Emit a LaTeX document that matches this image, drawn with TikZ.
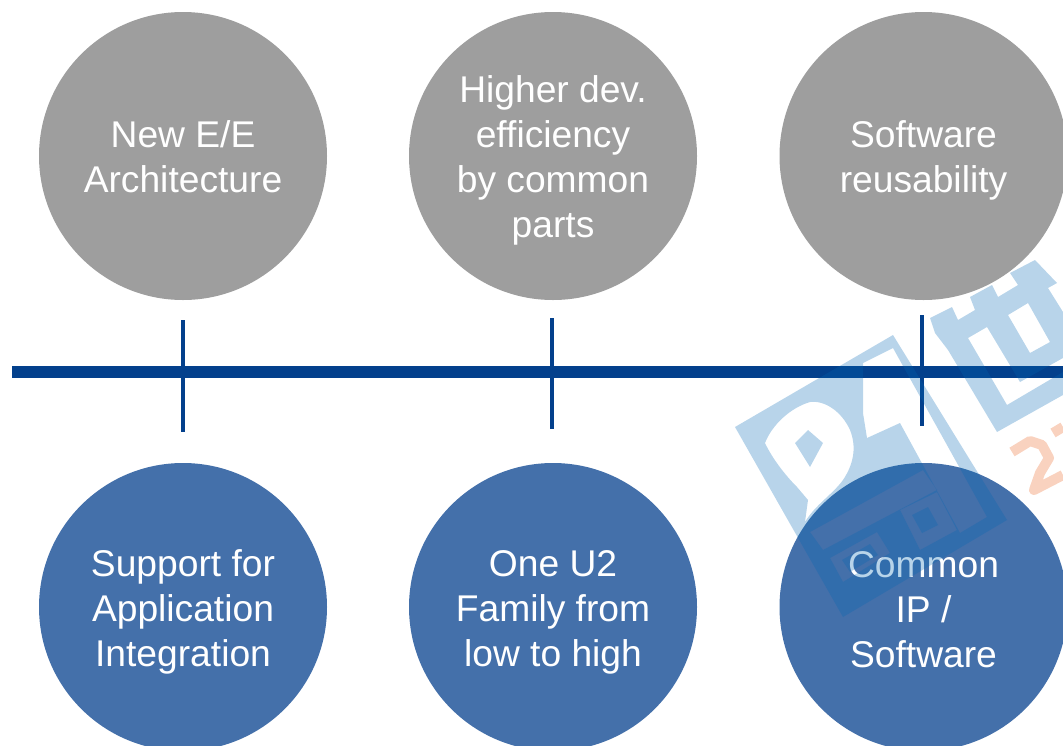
\documentclass[tikz,border=0pt]{standalone}
\usepackage{fontspec}
\setmainfont{Liberation Sans}
\definecolor{greyc}{HTML}{9E9E9E}
\definecolor{bluec}{HTML}{4470AA}
\definecolor{axisc}{HTML}{03408C}
\definecolor{wmblue}{HTML}{0066B3}
\definecolor{wmorange}{HTML}{F9D2BF}
\tikzset{
  disc/.style={circle,minimum size=288pt,inner sep=0pt},
  greydisc/.style={disc,fill=greyc},
  bluedisc/.style={disc,fill=bluec},
  disclabel/.style={inner sep=0pt,text=white,align=center,
    font=\fontsize{37.2}{45}\selectfont},
  axisline/.style={draw=axisc,line width=12pt},
  tick/.style={draw=axisc,line width=4pt},
  wm/.style={fill=wmblue,fill opacity=0.28,even odd rule},
  wmo/.style={draw=wmorange,line width=10pt,line join=round}
}
\begin{document}
\begin{tikzpicture}[x=1pt,y=-1pt]
\useasboundingbox (0,0) rectangle (1063,745);
\clip (0,0) rectangle (1063,745);
\node[greydisc] (a1) at (183,156) {};
\node[greydisc] (a2) at (553,156) {};
\node[greydisc] (a3) at (923.5,156) {};
\node[bluedisc] (b1) at (183,607) {};
\node[bluedisc] (b2) at (553,607) {};
\node[bluedisc] (b3) at (923.5,607) {};
\node[disclabel] (ta1) at (183,156.5) {New E/E\\Architecture};
\node[disclabel] (ta2) at (553,160.5) {Higher dev.\\efficiency\\by common\\parts};
\node[disclabel] (ta3) at (923.5,160) {Software\\reusability};
\node[disclabel] (tb1) at (183,612) {Support for\\Application\\Integration};
\node[disclabel] (tb2) at (553,612) {One U2\\Family from\\low to high};
\node[disclabel] (tb3) at (923.5,609.5) {Common\\IP /\\Software};
\coordinate (axl) at (12,372);
\coordinate (axr) at (1063,372);
\coordinate (t1a) at (182.5,320); \coordinate (t1b) at (182.5,432);
\coordinate (t2a) at (551.5,318); \coordinate (t2b) at (551.5,429);
\coordinate (t3a) at (921.5,315); \coordinate (t3b) at (921.5,426);
\draw[axisline] (axl) -- (axr);
\draw[tick] (t1a) -- (t1b);
\draw[tick] (t2a) -- (t2b);
\draw[tick] (t3a) -- (t3b);
% watermark, over everything
\path[wm] (735,427) -- (893,335) -- (1007,520) -- (843,617) -- cycle
  % swirl
  (765,443) .. controls (772,425) and (790,408) .. (810,402)
  .. controls (825,400) and (842,412) .. (850,430)
  .. controls (856,445) and (855,462) .. (843,480)
  .. controls (832,495) and (815,505) .. (805,522)
  -- (808,500) -- (797,487) .. controls (785,475) and (772,458) .. (765,443) -- cycle
  % swirl island
  (795,443) -- (808,430) -- (823,443) -- (810,467) -- cycle
  % window
  (863,363) -- (893,348) -- (987,517) -- (960,533) -- (900,423) -- (867,438) -- (863,413) -- cycle
  % lower bar
  (810,532) -- (923,470) -- (937,490) -- (823,550) -- cycle
  % code frame
  (830,558) -- (877,532) -- (890,553) -- (843,582) -- cycle
  (842,560) -- (870,544) -- (878,555) -- (850,572) -- cycle
  % code block
  (900,510) -- (937,492) -- (957,530) -- (920,550) -- cycle
  (912,515) -- (928,507) -- (938,525) -- (922,533) -- cycle;
\path[wm] (930,318) -- (952,307) -- (958,320) -- (975,310) -- (970,297) -- (992,285)
  -- (998,297) -- (1018,285) -- (1010,273) -- (1035,260) -- (1057,283) -- (1048,288)
  -- (1063,312) -- (1063,395) -- (997,432) -- (948,350) -- (935,333) -- cycle
  (968,338) -- (987,327) -- (1020,382) -- (1063,358) -- (1063,372) -- (1007,405) -- cycle
  (1008,315) -- (1028,303) -- (1050,342) -- (1030,353) -- cycle;
\draw[wmo] (1012,452) -- (1030,441) -- (1042,445) -- (1049,458) -- (1040,473) -- (1034,490) -- (1063,475);
\draw[wmo] (1053,433) -- (1063,427);
\end{tikzpicture}
\end{document}
